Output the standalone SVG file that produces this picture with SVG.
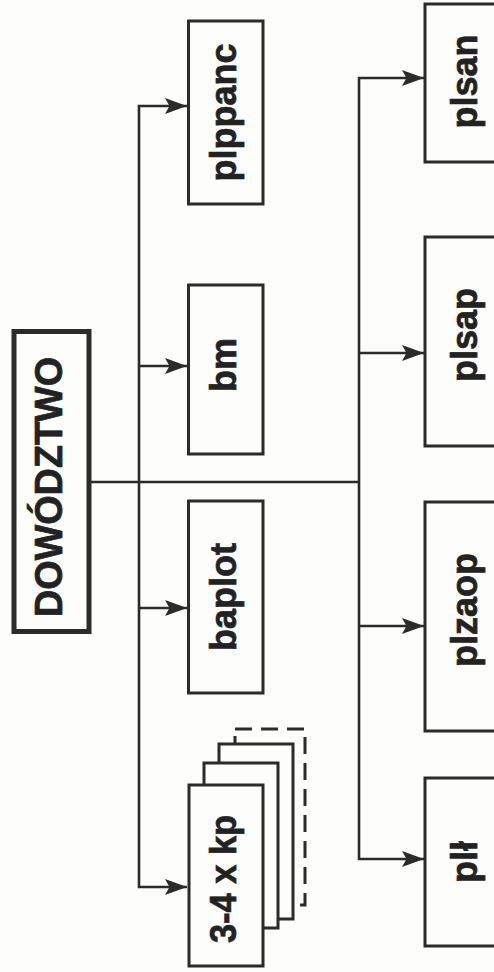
<svg xmlns="http://www.w3.org/2000/svg" width="494" height="972" viewBox="0 0 494 972">
  <style>
    .box { fill: #fdfdfb; stroke: #2b2b2b; stroke-width: 3; }
    .head { fill: #fdfdfb; stroke: #2b2b2b; stroke-width: 5; }
    .dash { fill: none; stroke: #2b2b2b; stroke-width: 3; stroke-dasharray: 17 9; }
    .link { fill: none; stroke: #2b2b2b; stroke-width: 2.6; }
    .lbl { font-family: "Liberation Sans", Arial, sans-serif; font-weight: bold; font-size: 36px; fill: #222; stroke: #222; stroke-width: 0.7; text-anchor: middle; }
  </style>
  <defs>
    <marker id="arrow" markerWidth="24" markerHeight="18" refX="22" refY="8.5" orient="auto-start-reverse" markerUnits="userSpaceOnUse">
      <path d="M22,8.5 L0,0.5 L4.5,8.5 L0,16.5 Z" fill="#2b2b2b"/>
    </marker>
  </defs>
  <rect width="494" height="972" fill="#fdfdfb"/>

  <!-- connectors -->
  <g id="connectors">
    <path class="link" d="M89,482 H359"/>
    <path class="link" d="M187,106 H139 V887 H187" marker-start="url(#arrow)" marker-end="url(#arrow)"/>
    <path class="link" d="M139,366 H187" marker-end="url(#arrow)"/>
    <path class="link" d="M139,608 H187" marker-end="url(#arrow)"/>
    <path class="link" d="M424,78 H359 V859 H424" marker-start="url(#arrow)" marker-end="url(#arrow)"/>
    <path class="link" d="M359,353 H424" marker-end="url(#arrow)"/>
    <path class="link" d="M359,626 H424" marker-end="url(#arrow)"/>
  </g>

  <!-- command -->
  <g id="dowodztwo">
    <rect class="head" x="14" y="331.5" width="75" height="300"/>
    <text class="lbl" style="font-size:38px" transform="translate(62,487) rotate(-90)" textLength="260" lengthAdjust="spacingAndGlyphs">DOWÓDZTWO</text>
  </g>

  <!-- left column -->
  <g id="plppanc">
    <rect class="box" x="188.5" y="21" width="74.5" height="183"/>
    <text class="lbl" transform="translate(236,112.5) rotate(-90)">plppanc</text>
  </g>
  <g id="bm">
    <rect class="box" x="188.5" y="285" width="74.5" height="169"/>
    <text class="lbl" transform="translate(236,365) rotate(-90)">bm</text>
  </g>
  <g id="baplot">
    <rect class="box" x="188.5" y="501" width="74.5" height="192"/>
    <text class="lbl" transform="translate(236,597) rotate(-90)">baplot</text>
  </g>
  <g id="kp">
    <rect class="dash" x="235" y="729" width="70" height="176"/>
    <rect class="box" x="219" y="744" width="74" height="175"/>
    <rect class="box" x="204" y="763" width="74" height="165"/>
    <rect class="box" x="189" y="785" width="74" height="181"/>
    <text class="lbl" transform="translate(236,879) rotate(-90)" textLength="128" lengthAdjust="spacingAndGlyphs">3-4 x kp</text>
  </g>

  <!-- right column -->
  <g id="plsan">
    <rect class="box" x="425" y="4" width="80" height="158"/>
    <text class="lbl" transform="translate(477,81.5) rotate(-90)">plsan</text>
  </g>
  <g id="plsap">
    <rect class="box" x="425" y="237" width="80" height="209"/>
    <text class="lbl" transform="translate(477,335) rotate(-90)">plsap</text>
  </g>
  <g id="plzaop">
    <rect class="box" x="425" y="502" width="80" height="229"/>
    <text class="lbl" transform="translate(477,610) rotate(-90)">plzaop</text>
  </g>
  <g id="pll">
    <rect class="box" x="425" y="778" width="80" height="168"/>
    <text class="lbl" transform="translate(477,862) rotate(-90)">plł</text>
  </g>
</svg>
